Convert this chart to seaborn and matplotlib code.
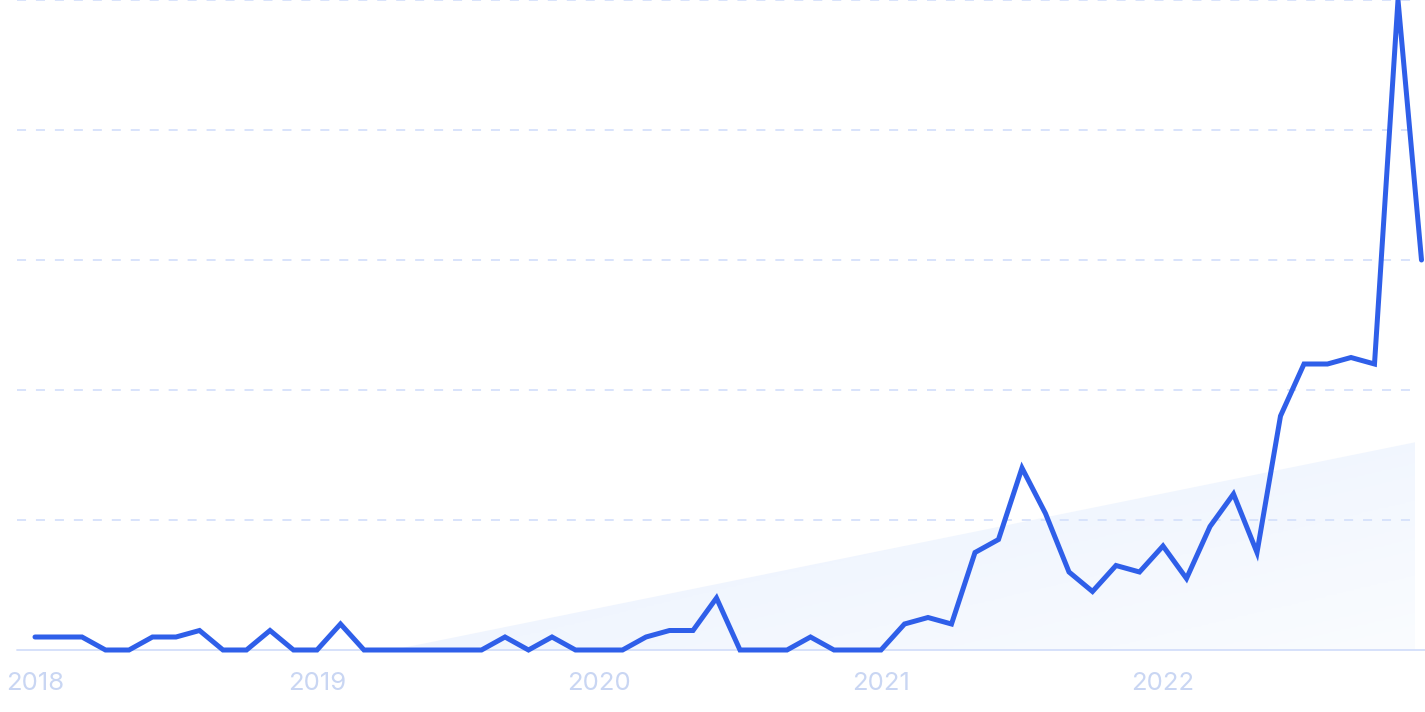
import numpy as np
import pandas as pd
import matplotlib
matplotlib.use("Agg")
import matplotlib.pyplot as plt
import seaborn as sns
from matplotlib.patches import Polygon
from matplotlib.colors import LinearSegmentedColormap

# ---- data (monthly, Jan 2018 .. Dec 2022) ----
months = pd.date_range("2018-01-01", periods=60, freq="MS")
values = [2, 2, 2, 0, 0, 2, 2, 3, 0, 0, 3, 0,
          0, 4, 0, 0, 0, 0, 0, 0, 2, 0, 2, 0,
          0, 0, 2, 3, 3, 8, 0, 0, 0, 2, 0, 0,
          0, 4, 5, 4, 15, 17, 28, 21, 12, 9, 13, 12,
          16, 11, 19, 24, 15, 36, 44, 44, 45, 44, 100, 60]
year_labels = ["2018", "2019", "2020", "2021", "2022"]
year_tick_idx = [0, 12, 24, 36, 48]
trend_idx = [15.2, 59.2]
trend_vals = [0, 32.3]
grid_vals = [0, 20, 40, 60, 80, 100]

df = pd.DataFrame({"idx": np.arange(len(values)), "value": values})

W, H, DPI = 1425, 712, 100
fig = plt.figure(figsize=(W / DPI, H / DPI), dpi=DPI)
sns.set_style("white")
plt.rcParams["font.family"] = ["Inter", "DejaVu Sans"]

ax = fig.add_axes([17 / W, 62 / H, 1398 / W, 650 / H])
x0 = (17 - 35) / 23.5
x1 = (1415 - 35) / 23.5

# trend area with gradient (strong at upper-left, fading to lower-right)
poly_pts = [(trend_idx[0], trend_vals[0]), (trend_idx[1], trend_vals[1]), (trend_idx[1], 0)]
poly = Polygon(poly_pts, closed=True, facecolor="none", edgecolor="none")
ax.add_patch(poly)
nx, ny = 300, 100
gx = np.linspace(0, 1, nx)
gy = np.linspace(0, 1, ny)
GX, GY = np.meshgrid(gx, gy)
grad = np.clip(0.7 * GX + 0.6 * (1 - GY), 0, 1.3) / 1.3
cmap = LinearSegmentedColormap.from_list("tr", ["#E8F0FE", "#FAFCFF"])
im = ax.imshow(grad, extent=[trend_idx[0], trend_idx[1], 0, trend_vals[1]],
               origin="lower", cmap=cmap, aspect="auto", zorder=0.5)
im.set_clip_path(poly)
im.set_clip_box(None)
ax.set_xlim(x0, x1)
ax.set_ylim(0, 100)

# grid lines
for g in grid_vals[1:]:
    ax.axhline(g, color="#D6E1FB", lw=1.3, ls=(0, (5, 5.5)), zorder=1, clip_on=False)

# line
sns.lineplot(data=df, x="idx", y="value", ax=ax, color="#2F5FE9", lw=3.6, zorder=3)
ln = ax.lines[-1]
ln.set_solid_joinstyle("miter")
ln.set_clip_box(None)

for s in ["top", "right", "left"]:
    ax.spines[s].set_visible(False)
ax.spines["bottom"].set_visible(False)
ax.plot([x0, trend_idx[1]], [0, 0], color="#D3DEFA", lw=1.3, zorder=2, clip_on=False)
ax.set_yticks([])
ax.set_xticks(year_tick_idx)
ax.set_xticklabels(year_labels)
ax.tick_params(axis="x", length=0, pad=16, labelsize=18.5, labelcolor="#C9D6F3")
ax.set_xlabel("")
ax.set_ylabel("")

fig.savefig("out.png", dpi=DPI, facecolor="white")
